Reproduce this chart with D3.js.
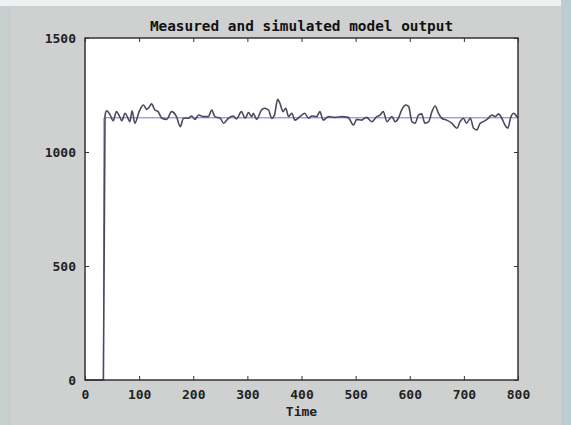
<!DOCTYPE html>
<html>
<head>
<meta charset="utf-8">
<script src="https://cdn.jsdelivr.net/npm/d3@7"></script>
<style>
  html, body { margin: 0; padding: 0; }
  body { width: 571px; height: 425px; overflow: hidden; background: #ced1d0; }
  text { font-family: "DejaVu Sans Mono", monospace; }
</style>
</head>
<body>
<div id="chart"></div>
<script>
// Measured output
const measuredTime = [0, 34, 37, 40, 46, 52, 58, 63, 68, 74, 79, 83, 87, 92, 100, 108, 114, 118, 123, 129,
  135, 142, 151, 160, 169, 176, 182, 191, 197, 203, 210, 219, 228, 234, 240, 250, 256, 265, 274, 280,
  289, 296, 302, 308, 311, 317, 326, 332, 339, 345, 350, 356, 360, 366, 371, 376, 382, 388, 397, 406,
  413, 419, 428, 434, 440, 450, 462, 474, 486, 496, 502, 511, 520, 530, 539, 545, 551, 558, 567, 573,
  579, 585, 593, 598, 604, 610, 616, 622, 628, 635, 641, 647, 653, 659, 668, 678, 687, 693, 699, 705,
  712, 718, 724, 730, 736, 745, 752, 758, 764, 770, 776, 781, 787, 792, 798, 800];
const measuredValue = [0, 0, 1160, 1181, 1165, 1137, 1177, 1160, 1137, 1170, 1150, 1133, 1181, 1126, 1177, 1206, 1187, 1195, 1211, 1184,
  1177, 1148, 1143, 1177, 1155, 1111, 1148, 1148, 1158, 1143, 1162, 1155, 1155, 1184, 1155, 1148, 1126, 1148, 1158, 1145,
  1177, 1148, 1173, 1155, 1170, 1143, 1184, 1192, 1184, 1148, 1162, 1231, 1214, 1177, 1192, 1155, 1170, 1140, 1155, 1170,
  1148, 1158, 1155, 1177, 1140, 1155, 1152, 1155, 1152, 1118, 1143, 1140, 1152, 1133, 1155, 1162, 1177, 1133, 1155, 1133,
  1148, 1184, 1206, 1199, 1133, 1126, 1162, 1167, 1126, 1133, 1177, 1202, 1170, 1148, 1140, 1126, 1104, 1133, 1148, 1126,
  1148, 1104, 1097, 1126, 1133, 1148, 1162, 1155, 1167, 1148, 1118, 1104, 1155, 1170, 1155, 1150];

// Simulated model output
const simTime = [0, 34, 35, 800];
const simValue = [0, 0, 1150, 1150];

const xTicks = [0, 100, 200, 300, 400, 500, 600, 700, 800];
const yTicks = [0, 500, 1000, 1500];

const titleText = "Measured and simulated model output";
const xLabel = "Time";

const W = 571, H = 425;
const margin = { top: 38, right: 53, bottom: 45, left: 85 };
const width = W - margin.left - margin.right;
const height = H - margin.top - margin.bottom;

const svg = d3.select("#chart").append("svg")
  .attr("width", W)
  .attr("height", H);

// window-ish edges around the figure
svg.append("rect").attr("x", 0).attr("y", 0).attr("width", W).attr("height", H).attr("fill", "#ced1d0");
svg.append("rect").attr("x", 0).attr("y", 0).attr("width", 11).attr("height", H).attr("fill", "#c6cfce");
svg.append("rect").attr("x", 0).attr("y", 0).attr("width", W).attr("height", 6).attr("fill", "#eef1f1");
svg.append("rect").attr("x", 561).attr("y", 0).attr("width", 10).attr("height", H).attr("fill", "#b9cdd3");

const g = svg.append("g").attr("transform", `translate(${margin.left},${margin.top})`);

const x = d3.scaleLinear().domain([0, 800]).range([0, width]);
const y = d3.scaleLinear().domain([0, 1500]).range([height, 0]);

g.append("rect").attr("width", width).attr("height", height).attr("fill", "#ffffff");

const measured = measuredTime.map((t, i) => ({ t, v: measuredValue[i] }));
const simulated = simTime.map((t, i) => ({ t, v: simValue[i] }));

const line = d3.line().x(d => x(d.t)).y(d => y(d.v));

g.append("path")
  .datum(simulated)
  .attr("fill", "none")
  .attr("stroke", "#7272e4")
  .attr("stroke-width", 1)
  .attr("d", line);

g.append("path")
  .datum(measured)
  .attr("fill", "none")
  .attr("stroke", "#4a4a5c")
  .attr("stroke-width", 1.6)
  .attr("d", line.curve(d3.curveMonotoneX));

// axes, ticks inside
const styleAxis = (sel) => {
  sel.select(".domain").remove();
  sel.selectAll(".tick line").attr("stroke", "#333");
  sel.selectAll(".tick text")
    .attr("fill", "#222")
    .style("font-size", "13px")
    .style("font-weight", "bold");
};

g.append("g")
  .attr("transform", `translate(0,${height})`)
  .call(d3.axisBottom(x).tickValues(xTicks).tickFormat(d3.format("d")).tickSize(-4).tickPadding(10))
  .call(styleAxis);

g.append("g")
  .call(d3.axisLeft(y).tickValues(yTicks).tickFormat(d3.format("d")).tickSize(-4).tickPadding(9))
  .call(styleAxis);

g.append("g")
  .call(d3.axisTop(x).tickValues(xTicks).tickSize(-4).tickFormat(""))
  .call(styleAxis);

g.append("g")
  .attr("transform", `translate(${width},0)`)
  .call(d3.axisRight(y).tickValues(yTicks).tickSize(-4).tickFormat(""))
  .call(styleAxis);

// frame
g.append("rect")
  .attr("width", width)
  .attr("height", height)
  .attr("fill", "none")
  .attr("stroke", "#333")
  .attr("stroke-width", 1.5);

// title and label
g.append("text")
  .attr("x", width / 2)
  .attr("y", -7)
  .attr("text-anchor", "middle")
  .attr("fill", "#111")
  .style("font-size", "14.4px")
  .style("font-weight", "bold")
  .text(titleText);

g.append("text")
  .attr("x", width / 2)
  .attr("y", height + 36)
  .attr("text-anchor", "middle")
  .attr("fill", "#222")
  .style("font-size", "13px")
  .style("font-weight", "bold")
  .text(xLabel);
</script>
</body>
</html>
